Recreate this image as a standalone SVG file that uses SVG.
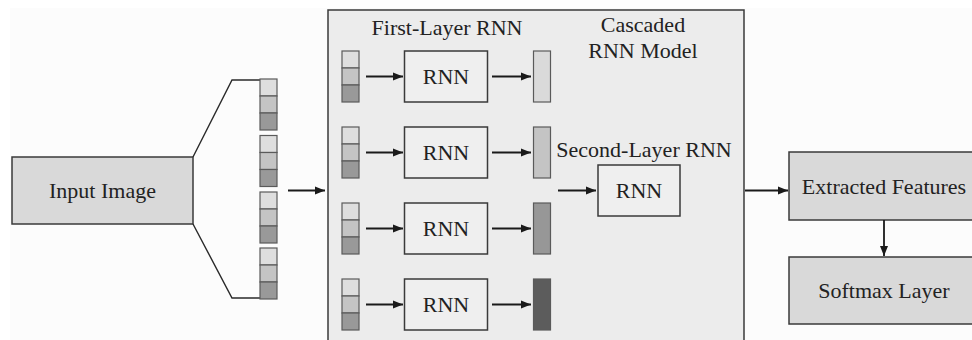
<svg xmlns="http://www.w3.org/2000/svg" width="972" height="340" viewBox="0 0 972 340">
  <defs>
    <marker id="arrow" viewBox="0 0 10 10" refX="10" refY="5" markerWidth="11" markerHeight="10" markerUnits="userSpaceOnUse" orient="auto">
      <path d="M0,1 L10,5 L0,9 Z" fill="#1a1a1a"/>
    </marker>
    <!-- three-cell input strip -->
    <g id="strip">
      <rect class="c1" x="0" y="0" width="17" height="17"/>
      <rect class="c2" x="0" y="17" width="17" height="17"/>
      <rect class="c3" x="0" y="34" width="17" height="17"/>
    </g>
  </defs>
  <style>
    text { font-family: "Liberation Serif", "Times New Roman", serif; font-size: 22px; fill: #222; text-anchor: middle; }
    .box { stroke: #3a3a3a; stroke-width: 1.5; }
    .grey { fill: #d9d9d9; }
    .rnn { fill: #efefef; stroke: #3a3a3a; stroke-width: 1.5; }
    .c1 { fill: #dedede; stroke: #5a5a5a; stroke-width: 1.2; }
    .c2 { fill: #c4c4c4; stroke: #5a5a5a; stroke-width: 1.2; }
    .c3 { fill: #999999; stroke: #5a5a5a; stroke-width: 1.2; }
    .bar { stroke: #5a5a5a; stroke-width: 1.2; }
    .conn { stroke: #1a1a1a; stroke-width: 1.8; fill: none; }
    .fan { stroke: #2a2a2a; stroke-width: 1.4; fill: none; }
  </style>

  <rect x="0" y="0" width="972" height="340" fill="#ffffff"/>
  <rect x="10" y="8" width="962" height="332" fill="#fcfcfc"/>

  <!-- input image and its split into strips -->
  <g id="input-image">
    <rect class="box grey" x="12" y="157" width="181" height="67"/>
    <text x="102.5" y="197.5">Input Image</text>
  </g>
  <g id="strips">
    <path class="fan" d="M193,157 L232,80 L260,80 M193,224 L232,298 L260,298"/>
    <use href="#strip" x="260" y="79"/>
    <use href="#strip" x="260" y="135.5"/>
    <use href="#strip" x="260" y="192"/>
    <use href="#strip" x="260" y="248"/>
  </g>

  <!-- cascaded model container -->
  <g id="cascaded-model">
    <rect x="328" y="10" width="416" height="340" fill="#ececec" stroke="#3a3a3a" stroke-width="1.5"/>
    <text x="447" y="35">First-Layer RNN</text>
    <text x="643" y="32">Cascaded</text>
    <text x="643" y="58">RNN Model</text>
    <text x="644" y="157">Second-Layer RNN</text>
  </g>

  <!-- first-layer rows -->
  <g id="row1">
    <use href="#strip" x="342" y="51"/>
    <rect class="rnn" x="404.5" y="51" width="83" height="51"/>
    <text x="446" y="84">RNN</text>
    <rect class="bar" x="533.5" y="51" width="17" height="51" fill="#dadada"/>
  </g>
  <g id="row2">
    <use href="#strip" x="342" y="127"/>
    <rect class="rnn" x="404.5" y="127" width="83" height="51"/>
    <text x="446" y="160">RNN</text>
    <rect class="bar" x="533.5" y="127" width="17" height="51" fill="#c4c4c4"/>
  </g>
  <g id="row3">
    <use href="#strip" x="342" y="203"/>
    <rect class="rnn" x="404.5" y="203" width="83" height="51"/>
    <text x="446" y="236">RNN</text>
    <rect class="bar" x="533.5" y="203" width="17" height="51" fill="#979797"/>
  </g>
  <g id="row4">
    <use href="#strip" x="342" y="279"/>
    <rect class="rnn" x="404.5" y="279" width="83" height="51"/>
    <text x="446" y="312">RNN</text>
    <rect class="bar" x="533.5" y="279" width="17" height="51" fill="#5c5c5c"/>
  </g>

  <!-- second-layer RNN -->
  <g id="second-rnn">
    <rect class="rnn" x="598" y="165" width="82" height="51"/>
    <text x="639" y="198">RNN</text>
  </g>

  <!-- output blocks -->
  <g id="extracted-features">
    <rect class="box grey" x="789" y="152" width="200" height="68"/>
    <text x="884" y="193.5">Extracted Features</text>
  </g>
  <g id="softmax-layer">
    <rect class="box grey" x="789" y="257" width="200" height="67"/>
    <text x="884" y="297.5">Softmax Layer</text>
  </g>

  <!-- connectors -->
  <g id="connectors">
    <line class="conn" x1="288" y1="190.5" x2="325" y2="190.5" marker-end="url(#arrow)"/>
    <line class="conn" x1="366" y1="76.5" x2="403" y2="76.5" marker-end="url(#arrow)"/>
    <line class="conn" x1="492" y1="76.5" x2="531" y2="76.5" marker-end="url(#arrow)"/>
    <line class="conn" x1="366" y1="152.5" x2="403" y2="152.5" marker-end="url(#arrow)"/>
    <line class="conn" x1="492" y1="152.5" x2="531" y2="152.5" marker-end="url(#arrow)"/>
    <line class="conn" x1="366" y1="228.5" x2="403" y2="228.5" marker-end="url(#arrow)"/>
    <line class="conn" x1="492" y1="228.5" x2="531" y2="228.5" marker-end="url(#arrow)"/>
    <line class="conn" x1="366" y1="304.5" x2="403" y2="304.5" marker-end="url(#arrow)"/>
    <line class="conn" x1="492" y1="304.5" x2="531" y2="304.5" marker-end="url(#arrow)"/>
    <line class="conn" x1="558" y1="190.5" x2="596" y2="190.5" marker-end="url(#arrow)"/>
    <line class="conn" x1="745" y1="190.5" x2="788" y2="190.5" marker-end="url(#arrow)"/>
    <line class="conn" x1="884" y1="220" x2="884" y2="256" marker-end="url(#arrow)"/>
  </g>
</svg>
